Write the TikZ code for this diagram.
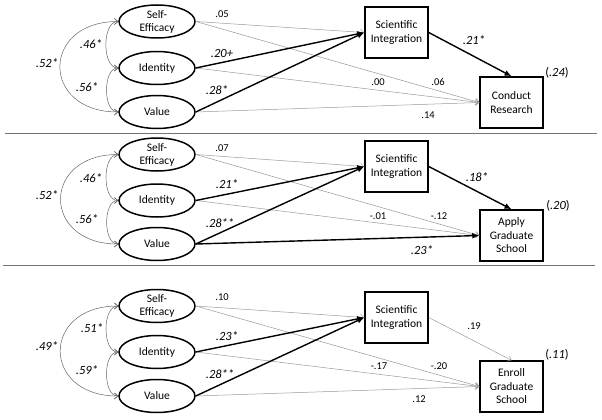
\documentclass[tikz,border=0pt]{standalone}
\usepackage{fontspec}
\setmainfont{Carlito}
\usetikzlibrary{shapes.geometric,arrows.meta}

\begin{document}
\begin{tikzpicture}[
        x=1pt, y=-1pt,
        latent/.style={ellipse, draw, line width=1.5pt, minimum width=76pt, minimum height=33pt, inner sep=0pt, align=center, font=\fontsize{11.5}{13}\selectfont},
        observed/.style={rectangle, draw, line width=1.5pt, minimum width=63pt, minimum height=51pt, inner sep=0pt, align=center, font=\fontsize{11.5}{13.5}\selectfont},
        sig/.style={-{Latex[length=7pt,width=6pt]}, line width=1.4pt},
        ns/.style={-{Straight Barb[length=3.5pt,width=6pt]}, draw=black!40, line width=0.5pt},
        cov/.style={{Straight Barb[length=3.5pt,width=6pt]}-{Straight Barb[length=3.5pt,width=6pt]}, draw=black!60, line width=0.5pt},
        coef/.style={font=\fontsize{10.5}{12}\selectfont},
        sigcoef/.style={font=\fontsize{12.5}{14}\selectfont\itshape},
        rsq/.style={font=\fontsize{12.5}{14}\selectfont},
        divider/.style={draw=black!55, line width=0.7pt}
        ]
        \useasboundingbox (0,0) rectangle (602,420);

        % conduct research
        \node[latent] (se1) at (157,21.5) {Self-\\Efficacy};
        \node[latent] (id1) at (157,68) {Identity};
        \node[latent] (va1) at (157,112) {Value};
        \node[observed] (si1) at (396.5,32.5) {Scientific\\Integration};
        \node[observed] (out1) at (511.5,102.5) {Conduct\\Research};
        \draw[cov] (se1.west) to[out=180, in=180, looseness=2.2] (va1.west);
        \draw[cov] (se1.west) to[out=180, in=180, looseness=0.9] (id1.west);
        \draw[cov] (id1.west) to[out=180, in=180, looseness=0.9] (va1.west);
        \draw[ns] (se1.east) -- (si1.west);
        \draw[ns] (se1.east) -- (out1.west);
        \draw[ns] (id1.east) -- (out1.west);
        \draw[ns] (va1.east) -- (out1.west);
        \draw[sig] (id1.east) -- (si1.west);
        \draw[sig] (va1.east) -- (si1.west);
        \draw[sig] (si1.east) -- (out1.north);
        \node[sigcoef] (c1a) at (47,63) {.52*};
        \node[sigcoef] (c1b) at (91,44) {.46*};
        \node[sigcoef] (c1c) at (87,87) {.56*};
        \node[coef] (c1d) at (222,14) {.05};
        \node[sigcoef] (c1e) at (222,53) {.20+};
        \node[sigcoef] (c1f) at (217,90) {.28*};
        \node[coef] (c1g) at (378,82) {.00};
        \node[coef] (c1h) at (438,82) {.06};
        \node[coef] (c1i) at (428,115) {.14};
        \node[sigcoef] (c1j) at (474,40) {.21*};
        \node[rsq] (r1) at (557,73) {(\textit{.24})};
        \draw[divider] (5,133) -- (597,133);

        % apply graduate school
        \node[latent] (se2) at (157,154.5) {Self-\\Efficacy};
        \node[latent] (id2) at (157,200.5) {Identity};
        \node[latent] (va2) at (157,244) {Value};
        \node[observed] (si2) at (396.5,166.5) {Scientific\\Integration};
        \node[observed] (out2) at (511.5,235.5) {Apply\\Graduate\\School};
        \draw[cov] (se2.west) to[out=180, in=180, looseness=2.2] (va2.west);
        \draw[cov] (se2.west) to[out=180, in=180, looseness=0.9] (id2.west);
        \draw[cov] (id2.west) to[out=180, in=180, looseness=0.9] (va2.west);
        \draw[ns] (se2.east) -- (si2.west);
        \draw[ns] (se2.east) -- (out2.west);
        \draw[ns] (id2.east) -- (out2.west);
        \draw[sig] (va2.east) -- (out2.west);
        \draw[sig] (id2.east) -- (si2.west);
        \draw[sig] (va2.east) -- (si2.west);
        \draw[sig] (si2.east) -- (out2.north);
        \node[sigcoef] (c2a) at (47,195) {.52*};
        \node[sigcoef] (c2b) at (91,178) {.46*};
        \node[sigcoef] (c2c) at (87,219) {.56*};
        \node[coef] (c2d) at (222,148) {.07};
        \node[sigcoef] (c2e) at (227,184) {.21*};
        \node[sigcoef] (c2f) at (220,223) {.28**};
        \node[coef] (c2g) at (378,216) {-.01};
        \node[coef] (c2h) at (439,216) {-.12};
        \node[sigcoef] (c2i) at (422,250) {.23*};
        \node[sigcoef] (c2j) at (477,177) {.18*};
        \node[rsq] (r2) at (558,206) {(\textit{.20})};
        \draw[divider] (3,265) -- (595,265);

        % enroll graduate school
        \node[latent] (se3) at (157,306) {Self-\\Efficacy};
        \node[latent] (id3) at (157,352) {Identity};
        \node[latent] (va3) at (157,396) {Value};
        \node[observed] (si3) at (396.5,317.5) {Scientific\\Integration};
        \node[observed] (out3) at (511.5,386.5) {Enroll\\Graduate\\School};
        \draw[cov] (se3.west) to[out=180, in=180, looseness=2.2] (va3.west);
        \draw[cov] (se3.west) to[out=180, in=180, looseness=0.9] (id3.west);
        \draw[cov] (id3.west) to[out=180, in=180, looseness=0.9] (va3.west);
        \draw[ns] (se3.east) -- (si3.west);
        \draw[ns] (se3.east) -- (out3.west);
        \draw[ns] (id3.east) -- (out3.west);
        \draw[ns] (va3.east) -- (out3.west);
        \draw[sig] (id3.east) -- (si3.west);
        \draw[sig] (va3.east) -- (si3.west);
        \draw[ns] (si3.east) -- (out3.north);
        \node[sigcoef] (c3a) at (47,346) {.49*};
        \node[sigcoef] (c3b) at (92,328) {.51*};
        \node[sigcoef] (c3c) at (87,370) {.59*};
        \node[coef] (c3d) at (222,297) {.10};
        \node[sigcoef] (c3e) at (227,336) {.23*};
        \node[sigcoef] (c3f) at (220,374) {.28**};
        \node[coef] (c3g) at (379,366) {-.17};
        \node[coef] (c3h) at (439,366) {-.20};
        \node[coef] (c3i) at (419,399) {.12};
        \node[coef] (c3j) at (474,326) {.19};
        \node[rsq] (r3) at (557,355) {(\textit{.11})};
\end{tikzpicture}
\end{document}
